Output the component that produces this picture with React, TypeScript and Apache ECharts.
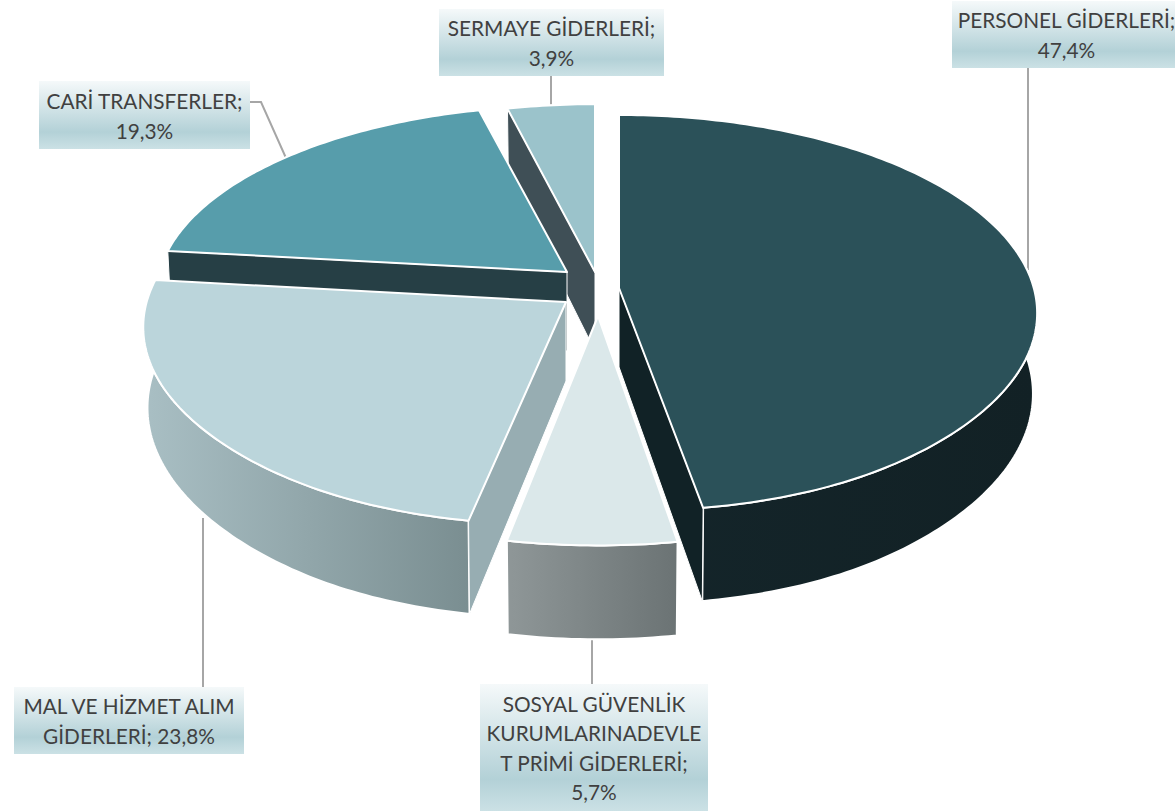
import React, { useEffect, useRef } from "react";
import * as echarts from "echarts";

// ---- data ----
const NAMES = ["PERSONEL GİDERLERİ", "SOSYAL GÜVENLİK KURUMLARINADEVLET PRİMİ GİDERLERİ", "MAL VE HİZMET ALIM GİDERLERİ", "CARİ TRANSFERLER", "SERMAYE GİDERLERİ"];
const VALUES = [47.4, 5.7, 23.8, 19.3, 3.9];
const LABEL_LINES = [
  ["PERSONEL GİDERLERİ;", "47,4%"],
  ["SOSYAL GÜVENLİK", "KURUMLARINADEVLE", "T PRİMİ GİDERLERİ;", "5,7%"],
  ["MAL VE HİZMET ALIM", "GİDERLERİ; 23,8%"],
  ["CARİ TRANSFERLER;", "19,3%"],
  ["SERMAYE GİDERLERİ;", "3,9%"],
];

// ---- styles and layout ----
const TOP_COLORS = ["#2b5159", "#dbe8ea", "#bbd5db", "#579dab", "#9bc3cb"];
const CUT_COLORS = ["#112226", "#8e9697", "#97adb2", "#263f45", "#3f4f56"];
const RIM_COLORS = [["#14252a", "#122125"], ["#8f9798", "#6b7374"], ["#a9bfc4", "#7a8e91"], ["#263f45", "#263f45"], ["#3f4f56", "#3f4f56"]];
// which radial cut of a slice faces the viewer: "start", "end" or none
const VISIBLE_CUT = ["end", "", "start", "start", "start"];
const APEX = [[619, 288], [598, 316], [566, 302], [567, 272], [595, 272]];
const SLICE_SCALE = [[0.997, 1], [0.943, 1.027], [1.008, 1], [0.98, 0.96], [0.975, 0.97]];
const DRAW_ORDER = [4, 3, 0, 2, 1];
const RX = 416, RY = 195, PERSPECTIVE = 0.127, FRONT_WIDEN = 0.08;
const BOTTOM_DROP = 79, BOTTOM_SX = 0.99, BOTTOM_SY = 1.065;

const BOXES = [
  { x: 952, y: 1, w: 223, h: 67, lh: 30, tx: 3 },
  { x: 480, y: 684, w: 228, h: 127, lh: 29.5, tx: 0 },
  { x: 14, y: 687, w: 230, h: 67, lh: 30, tx: 0 },
  { x: 39, y: 81, w: 211, h: 68, lh: 30, tx: 0 },
  { x: 439, y: 9, w: 225, h: 67, lh: 30, tx: 0 },
];
const LEADERS = [
  [[1028, 68], [1028, 270]],
  [[592, 684], [592, 640]],
  [[203, 687], [203, 518]],
  [[250, 102], [261, 102], [286, 158]],
  [[551, 76], [551, 106]],
];
const TEXT_COLOR = "#404040";
const FONT = "20.8px Lato";

const total = VALUES.reduce((a, b) => a + b, 0);
const startAngles: number[] = [];
VALUES.reduce((acc, v, i) => {
  startAngles[i] = acc;
  return acc + (v / total) * Math.PI * 2;
}, 0);

function project(i: number, ang: number, bottom: boolean): number[] {
  const v = -Math.cos(ang);
  const u = Math.sin(ang) * (1 + FRONT_WIDEN * Math.pow(Math.max(0, v), 8));
  const w = 1 - PERSPECTIVE * v;
  const [sx, sy] = SLICE_SCALE[i];
  const [ax, ay] = APEX[i];
  if (!bottom) return [ax + (sx * RX * u) / w, ay + (sy * RY * v) / w];
  return [ax + (sx * BOTTOM_SX * RX * u) / w, ay + BOTTOM_DROP + (sy * BOTTOM_SY * RY * v) / w];
}

function arc(i: number, bottom: boolean): number[][] {
  const a0 = startAngles[i];
  const a1 = a0 + (VALUES[i] / total) * Math.PI * 2;
  const n = Math.max(12, Math.round((a1 - a0) * 60));
  const pts: number[][] = [];
  for (let k = 0; k <= n; k++) pts.push(project(i, a0 + ((a1 - a0) * k) / n, bottom));
  return pts;
}

function renderSlice(_params: any, api: any) {
  const i = api.value(0) as number;
  const top = arc(i, false);
  const bot = arc(i, true);
  const ap = APEX[i];
  const apB = [ap[0], ap[1] + BOTTOM_DROP];
  const edge = { stroke: "#ffffff", lineWidth: 2, lineJoin: "round" };
  const cut = (t: number[], b: number[]) => ({
    type: "polygon",
    shape: { points: [ap, t, b, apB] },
    style: { fill: CUT_COLORS[i], stroke: "#ffffff", lineWidth: 1, lineJoin: "round" },
  });
  const cuts: any[] = [];
  if (VISIBLE_CUT[i] === "end") cuts.push(cut(top[top.length - 1], bot[bot.length - 1]));
  if (VISIBLE_CUT[i] === "start") cuts.push(cut(top[0], bot[0]));
  return {
    type: "group",
    children: [
      {
        type: "polygon",
        shape: { points: [...top, ...bot.slice().reverse()] },
        style: {
          fill: new echarts.graphic.LinearGradient(0, 0, 1, 0, [
            { offset: 0, color: RIM_COLORS[i][0] },
            { offset: 1, color: RIM_COLORS[i][1] },
          ]),
          ...edge,
        },
      },
      ...cuts,
      {
        type: "polygon",
        shape: { points: [ap, ...top] },
        style: { fill: TOP_COLORS[i], ...edge },
      },
    ],
  };
}

function labelGraphics() {
  const out: any[] = [];
  LEADERS.forEach((pts) => {
    out.push({ type: "polyline", z: 1, silent: true, shape: { points: pts }, style: { stroke: "#a6a6a6", lineWidth: 2, fill: "none" } });
  });
  BOXES.forEach((b, i) => {
    out.push({
      type: "rect",
      z: 3,
      silent: true,
      shape: { x: b.x, y: b.y, width: b.w, height: b.h },
      style: {
        fill: new echarts.graphic.LinearGradient(0, 0, 0, 1, [
          { offset: 0, color: "#f5f9fa" },
          { offset: 0.75, color: "#b3d1d7" },
          { offset: 1, color: "#cbe1e5" },
        ]),
      },
    });
    const lines = LABEL_LINES[i];
    const y0 = b.y + b.h / 2 - ((lines.length - 1) * b.lh) / 2;
    lines.forEach((line, k) => {
      out.push({
        type: "text",
        z: 4,
        silent: true,
        style: { text: line, x: b.x + b.w / 2 + b.tx, y: y0 + k * b.lh, align: "center", verticalAlign: "middle", font: FONT, fill: TEXT_COLOR },
      });
    });
  });
  return out;
}

export default function App() {
  const ref = useRef<HTMLDivElement>(null);
  useEffect(() => {
    const chart = echarts.init(ref.current!, null, { renderer: "svg" });
    chart.setOption({
      animation: false,
      backgroundColor: "#ffffff",
      graphic: { elements: labelGraphics() },
      series: [
        {
          type: "custom",
          coordinateSystem: "none",
          z: 2,
          silent: true,
          renderItem: renderSlice,
          data: DRAW_ORDER.map((i) => ({ name: NAMES[i], value: [i, VALUES[i]] })),
        },
      ],
    });
    return () => chart.dispose();
  }, []);
  return <div ref={ref} style={{ position: "absolute", left: 0, top: 0, width: 1175, height: 811 }} />;
}
